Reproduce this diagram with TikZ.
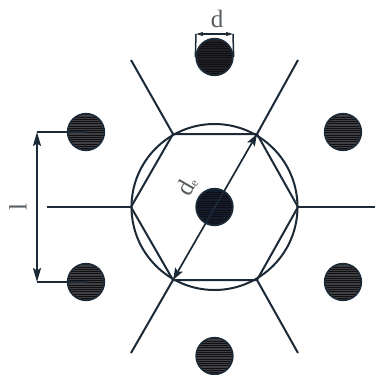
\documentclass[tikz,border=0pt]{standalone}
\usepackage{fontspec}
\setmainfont{Liberation Serif}
\usetikzlibrary{arrows.meta}
\definecolor{ink}{HTML}{1B2A36}
\definecolor{core}{HTML}{101014}
\definecolor{hatchlight}{HTML}{404042}
\definecolor{hatchdark}{HTML}{222226}
\definecolor{hatchnavy}{HTML}{141C30}
\definecolor{label}{HTML}{555B5F}
\tikzset{
  x=1pt,y=-1pt,
  wire/.style={draw=ink,line width=2pt},
  dim/.style={draw=ink,line width=1.7pt},
  dimarrow/.style={dim,{Stealth[length=14pt,width=8pt,inset=2.5pt]}-{Stealth[length=14pt,width=8pt,inset=2.5pt]}},
  diagarrow/.style={dim,{Stealth[length=12pt,width=8.5pt,inset=2.5pt]}-{Stealth[length=12pt,width=8.5pt,inset=2.5pt]}},
  dimsmall/.style={draw=ink,line width=1.1pt,{Stealth[length=7pt,width=4pt,inset=1pt]}-{Stealth[length=7pt,width=4pt,inset=1pt]}},
  rod/.style={circle,draw=ink,line width=1.8pt,fill=core,minimum size=36.5pt,inner sep=0pt},
  dimlabel/.style={text=label,inner sep=0pt},
}
\newcommand{\hatchrod}[4]{% name, x, y, colour
  \node[rod] (#1) at (#2,#3) {};
  \begin{scope}
    \clip (#2,#3) circle (17.4pt);
    \foreach \k in {-17,-15.2,...,17.5}
      \draw[#4,line width=0.8pt] (#2-18,#3+\k) -- (#2+18,#3+\k);
  \end{scope}
}
\begin{document}
\begin{tikzpicture}
\useasboundingbox (0,0) rectangle (375,375);
\fill[white] (0,0) rectangle (375,375);
% hexagon vertices
\coordinate (vl) at (131,207);
\coordinate (vr) at (298,207);
\coordinate (vtl) at (173,134);
\coordinate (vtr) at (257,134);
\coordinate (vbl) at (173,280);
\coordinate (vbr) at (257,280);
% spoke ends
\coordinate (sl) at (47,207);
\coordinate (sr) at (375,207);
\coordinate (stl) at (131,60);
\coordinate (str) at (298,60);
\coordinate (sbl) at (131,353);
\coordinate (sbr) at (298,353);
% circumcircle
\node[circle,wire,fill=none,minimum size=166pt,inner sep=0pt] (cell) at (214.5,207) {};
% hexagon and spokes
\draw[wire] (vl) -- (vtl) -- (vtr) -- (vr) -- (vbr) -- (vbl) -- cycle;
\draw[wire] (sl) -- (vl);
\draw[wire] (sr) -- (vr);
\draw[wire] (stl) -- (vtl);
\draw[wire] (str) -- (vtr);
\draw[wire] (sbl) -- (vbl);
\draw[wire] (sbr) -- (vbr);
% rods
\hatchrod{rodt}{214.5}{57}{hatchdark}
\hatchrod{rodtl}{86}{132}{hatchlight}
\hatchrod{rodtr}{343}{132}{hatchlight}
\hatchrod{rodbl}{86}{282}{hatchlight}
\hatchrod{rodbr}{343}{282}{hatchlight}
\hatchrod{rodb}{214.5}{356}{hatchlight}
\hatchrod{rodc}{214.5}{207}{hatchnavy}
% dimension de
\draw[diagarrow] (vbl) -- (vtr);
% dimension l
\coordinate (lt) at (37,132);
\coordinate (lb) at (37,282);
\draw[dim] (lt) -- (rodtl.center);
\draw[dim] (lb) -- (rodbl.center);
\draw[dimarrow] (lt) -- (lb);
% dimension d
\coordinate (dl) at (196,34);
\coordinate (dr) at (233,34);
\draw[draw=ink,line width=1.5pt] (dl) -- (rodt.west);
\draw[draw=ink,line width=1.5pt] (dr) -- (rodt.east);
\draw[dimsmall] (dl) -- (dr);
% labels
\node[dimlabel,font=\fontsize{25}{25}\selectfont] (ld) at (217,19) {d};
\node[dimlabel,rotate=90,font=\fontsize{25}{25}\selectfont] (ll) at (18,207) {l};
\node[dimlabel,rotate=60,font=\fontsize{25}{25}\selectfont] (lde) at (187,186) {d{\fontsize{12}{12}\selectfont e}};
\end{tikzpicture}
\end{document}
